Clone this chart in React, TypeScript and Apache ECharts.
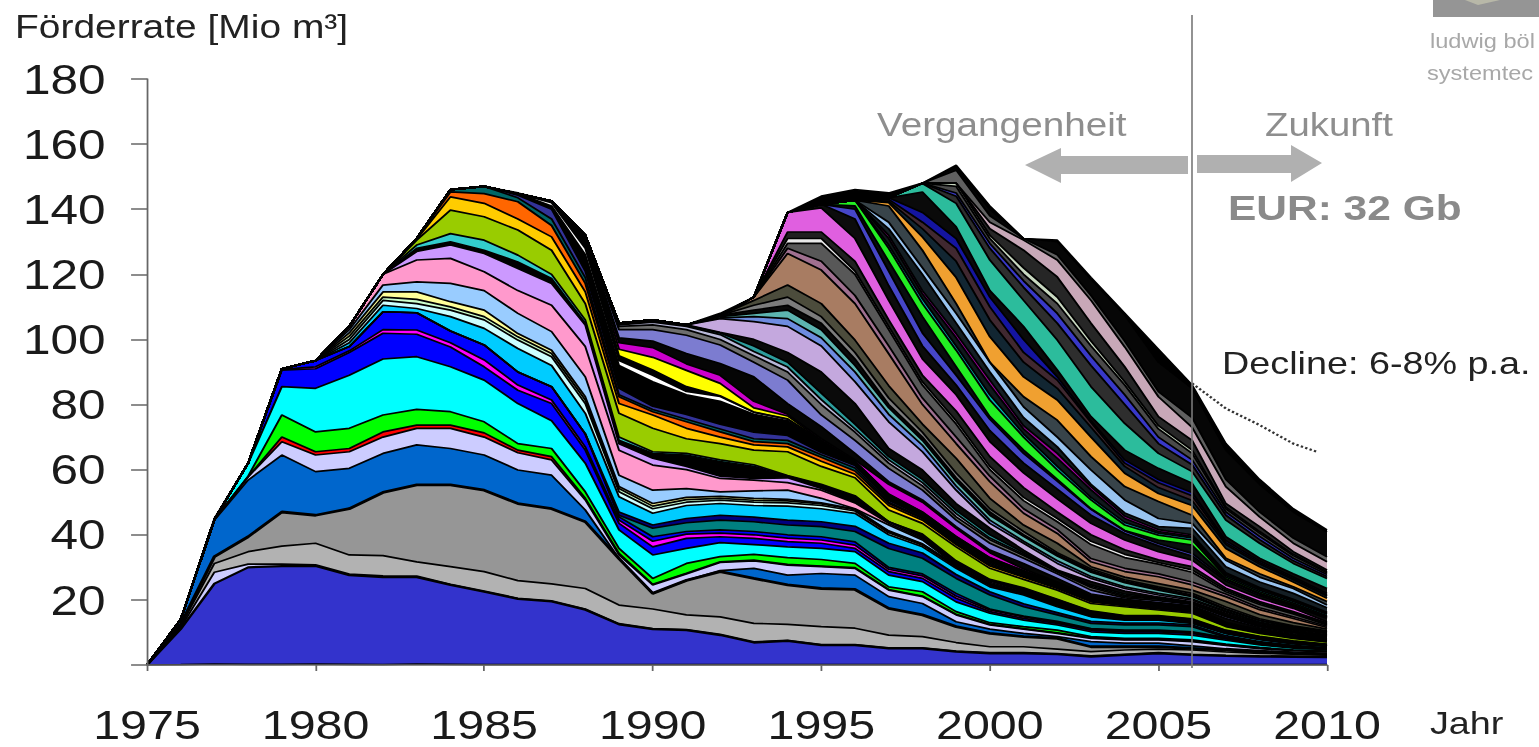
import React, { useEffect, useRef } from "react";
import * as echarts from "echarts";

const years = Array.from({ length: 36 }, (_, i) => 1975 + i);
const yTicks = [0, 20, 40, 60, 80, 100, 120, 140, 160, 180];

// Upper edge of each band (Mio m3). `totalTop` is the outline.
const totalTop = [0,14,45,62,91,93.5,104,120,131,146,147,145,142.5,132,105,106,104.5,108,113,139,144,146,145,148,153.5,141,131,130.5,119,108,97,86,68,57,48,41.5];
const baseTop = [0,0.1,0.3,0.2,0.2,0.3,0.2,0.1,0.3,0.2,0.1,0.1,0.1,0.1,0.1,0.1,0.1,0.1,0.1,0.1,0.1,0.1,0.1,0.1,0.1,0.1,0.1,0.1,0.1,0.1,0.1,0.1,0.1,0.1,0.1,0.1];
const blueTop = [0,11,25,30,30.4,30.4,27.6,27,27,24.6,22.5,20.3,19.5,17,12.5,11,10.7,9.2,6.9,7.4,6.1,6.1,5.1,5.1,4.1,3.6,3.6,3.3,2.6,3.1,3.6,3.1,2.8,2.6,2.5,2.4];
const lavThinTop = [0,11.5,28.5,31,31,30.8,27.9,27.4,27.3,24.8,22.7,20.5,19.7,17.2,12.7,11.2,10.9,9.4,7.1,7.6,6.3,6.3,5.3,5.3,4.3,3.8,3.8,3.5,2.8,3.3,3.8,3.3,3,2.8,2.7,2.6];
const lightGreyTop = [0,12,31.2,34.8,36.5,37.4,33.8,33.6,31.7,30.2,28.7,25.9,24.9,23.5,18.4,17.2,15.4,14.8,12.8,12.5,11.8,11.3,9.2,8.7,6.9,5.6,5.6,4.9,4.1,4.6,4.9,4.6,4,3.6,3.3,3];
const midGreyTop = [0,12.5,33.3,39.4,47,46,48,53,55.3,55.3,53.7,49.6,48,44,32.7,22,26,28.7,26.6,24.6,23.5,23.2,17.4,15.4,11.8,9.7,8.7,8.2,5.6,5.6,5.6,5.1,4.6,4,3.6,3.3];
const steelTop = [0,14,44.5,56.8,64.5,59.4,60.4,65,67.6,66.5,64.5,59.9,58.3,47.6,32.7,22,26,29,29.7,27.6,28.1,27.6,21,18.9,13.3,11,9.7,8.7,7.2,6.7,6.7,5.9,5,4.4,4,3.6];
const lavenderTop = [0,14,44.7,57.8,68.6,64.5,65.5,70,72.7,72.7,70,65.2,63,50.7,33.8,24.6,28,31.5,32,30.7,30.2,29.7,23,21,15.4,12.3,11,9.7,8.2,7.7,7.7,7.2,6,5,4.4,4];
const redTop = [0,14,44.7,57.8,70,65.5,66.5,71.6,73.7,73.7,71.3,66,64,51.2,34.3,24.8,28.2,31.7,32.2,30.9,30.4,29.9,23.2,21.2,15.6,12.5,11.2,9.9,8.4,7.9,7.9,7.4,6.2,5.2,4.6,4.2];
const greenTop = [0,14,44.7,58,76.8,71.6,72.7,76.8,78.5,77.8,74.7,68,66.5,53.2,35.8,26.6,31.2,33.3,34,33,32.4,31.2,24,22.5,16.4,13,11.8,10.7,8.7,8.2,8.2,7.7,6.4,5.4,4.6,4.3];
const cyanTop = [0,14,44.7,61.9,85.5,85,89,94,94.7,91.6,87.5,80.3,75,62,41.5,33.8,35.8,37.6,37,36.3,35.8,34.8,27.6,25.6,19.4,15.9,13.8,12.3,10.2,9.7,9.7,9.2,7.6,6.2,5.2,4.7];
const deepBlueTop = [0,14,44.7,62,90.6,91,96,101.9,101.6,97.7,91.6,84.4,80.3,66,43.5,36.3,38.9,39.4,38.9,37.9,37.4,35.8,28.7,26.6,20.5,16.4,14.3,12.8,10.7,10.2,10.2,9.7,8,6.4,5.4,4.8];
const magentaTop = [0,14,44.7,62,90.8,91.6,96.5,103,102.9,99,93.7,86,81.4,67,44.5,38,40.2,40.5,40,39,38.4,36.8,29.4,27.4,21.2,16.9,14.8,13.1,11,10.5,10.5,10,8.2,6.6,5.6,5];
const upperBlueTop = [0,14,44.7,62,91,93.5,97.8,108.5,108.2,102.6,98.3,90,85.5,71,45.5,39.4,41,41.5,41,40,39.4,37.8,30,28,22,17.2,15,13.4,11.2,10.7,10.7,10.2,8.4,6.8,5.7,5.1];
const tealTop = [46,42,43.7,44.5,44,43,42.5,41,35.8,32.8,26.6,21.5,17.9,15.4,12.8,12.3,12.3,11.8,8.5,6.9,5.8,5.2];
const navyTop = [47,43,45,46,45.4,44.5,44,42.6,37.4,34.4,27.8,22.5,18.8,16.1,13.4,12.9,12.9,12.3,9,7.2,6,5.3];
const skyTop = [99,110.5,109.5,107,103.4,97.2,92,77.3,51.7,46.6,49,49.6,49,48.8,48,46.6,40,36.3,29.7,24,21.5,17.9,14.8,13.8,13.8,12.8,9.6,7.8,6.5,5.7];
const lightCyanTop = [100,112,111,109,106,99.8,94.7,80.3,53.2,48,50,50.6,50,49.8,49,47.3,40.6,36.8,30.1,24.4,21.8,18.2,15,14,14,13,9.8,7.9,6.6,5.8];
const paleGreenTop = [101,113,112.3,110,107,100.8,95.7,81.4,54.2,48.8,50.8,51.2,50.6,50.4,49.5,47.7,41,37.1,30.4,24.7,22,18.4,15.2,14.1,14.1,13.1,9.9,8,6.7,5.85];
const paleYellowTop = [102,114.6,114.6,111.6,109,101.8,96.7,82.4,54.8,49.6,51.5,51.8,51.2,50.9,49.8,47.9,41.2,37.2,30.6,24.9,22.1,18.5,15.3,14.2,14.2,13.2,10,8.1,6.75,5.9];
const lightBlueTop = [103,116.7,117.7,117.2,115,108,102.4,88.5,58.3,53.7,54.2,53.2,53.5,53.7,51.2,48,43,38.4,30.5,25,22,18.6,15.4,14.3,14.3,13.3,10.3,8.3,6.9,6.1];
const pinkTop = [104,120.3,124.4,124.9,120.8,115,110.5,97.8,66,61.4,60,57.3,56.8,56,53.7,49.8,43.5,38.8,31,25.4,22.3,18.8,15.6,14.5,14.5,13.5,10.4,8.4,7,6.15];
const violetTop = [104,120.3,127,129,126.4,121.8,117.2,104.4,68,63.5,61,58,57.3,57.5,54.2,50,44,39.2,31.4,25.8,22.6,19,15.8,14.6,14.6,13.6,10.45,8.45,7.05,6.2];
const darkATop = [104,120.3,128,130,127.4,123.8,118.7,105,69,65,64.5,62.5,61,58,55.3,51.7,43.5,40,31.7,26.1,23.5,20,16.4,15,15,14,10.6,8.7,7.3,6.3];
const turquoiseTop = [104,120.3,129,132.5,130.5,125.9,120,106,70,65.5,65,63,61.5,58.2,55.5,52,43.8,40.2,32,26.3,23.7,20.2,16.6,15.2,15.2,14.2,10.7,8.8,7.4,6.4];
const limeTop = [104,120.3,130.5,139.7,137.7,133.6,127.4,111,77.3,72.7,69.5,68,66,65.5,61,57.5,47.6,43.5,36.3,29.7,26.3,23,18.9,17.9,16.9,15.9,11.8,9.7,8.2,7.1];
const goldTop = [130.8,143.8,141.8,137,131.5,114.6,80.3,76.8,72.7,70,67.6,67,62.6,58.6,49,44.5,37,30.4,27,23.5,19.4,18.2,17.2,16.2,12,9.9,8.3,7.2];
const orangeTop = [131,145.3,144.8,142.3,135,117.2,82.4,77.8,74.7,71.6,68.6,68,63.8,59.6,49.6,45,37.4,30.8,27.3,23.8,19.6,18.4,17.4,16.4,12.1,10,8.4,7.3];
const darkTealTop = [146,147,143.5,137,119,83,78.5,75.5,72.5,69.5,69,64.6,60.5,50,45.3,37.8,31.2,27.6,24,19.8,18.6,17.6,16.6,12.3,10.2,8.5,7.4];
const indigoTop = [144.3,140,121,85,79.5,77,74,71.5,70.5,65.3,61.3,50.6,45.7,38.2,31.6,28,24.3,20,18.8,17.8,16.8,12.4,10.3,8.6,7.5];
const darkBTop = [144.8,141,126,92,87,83,81,77,75,68.5,62.2,52,46.5,39,32.5,28.5,24.8,20.4,19.2,18.2,17.2,12.6,10.4,8.7,7.6];
const whiteATop = [142,128,93.5,89,84,82.5,77.6,75.5,68.8,62.4,52.2,46.7,39.2,32.7,28.7,25,20.6,19.4,18.4,17.4,12.7,10.5,8.8,7.7];
const darkCTop = [142.8,132.6,95,90.6,85.5,82.7,77.7,75.6,68.9,62.5,52.4,46.9,39.4,32.9,28.9,25.2,20.8,19.6,18.6,17.6,12.8,10.6,8.9,7.8];
const yellowTop = [97,94.5,90.5,86.5,79,76.5,69,62.6,52.5,47,39.5,33,29,25.3,20.9,19.7,18.7,17.7,12.9,10.7,9,7.9];
const purpleATop = [99,97.5,92.5,89,81,77,69.5,63,55.5,50,42,34.5,29.5,25.5,21.2,20,19,18,13.1,10.8,9.1,8];
const darkDTop = [100.5,99.5,95.7,92.6,88.5,80.3,73.2,65,56.3,50.7,42.5,35.3,31.2,26.6,21.8,20.2,19.2,18.2,14.3,11.4,9.6,8.5];
const periwinkleTop = [103,103,101.3,98.3,93,87.5,76.8,69,60.4,53.7,44.5,37.4,32.8,28,23,20.6,19.8,18.6,14.8,11.8,9.9,8.8];
const greyATop = [104,104.5,103,100,95,90,80,71.5,62,55,45.5,38.5,33.6,28.6,23.8,21,20.2,18.8,15,12,10,8.9];
const paleVioletTop = [104.5,105.3,104,101.5,96.3,91.5,81.5,72.5,63,56,46.5,39,34,28.8,24.2,21.4,20.4,18.9,15.2,12.1,10.1,9];
const tealATop = [104.7,105.6,104.3,102,98,93,83.5,74,64,57,47.5,40,34.5,29,24.6,21.8,20.6,19,15.4,12.3,10.3,9.1];
const darkETop = [105,106,104.5,102.2,100,96,90,80.3,66.5,59.9,49.6,42,35.3,29.2,25.6,22.7,20.9,19.4,15.9,12.7,10.7,9.3];
const lilacTop = [104.5,106.4,105.5,104,98,87,74.7,65.5,53.7,43.5,37.4,31.2,26.6,23.5,21.5,19.9,16.3,13,11,9.6];
const cornTop = [104.5,106.6,107,106.4,100.5,90,77,67.5,55,44.5,38,32,27.2,24,22,20.3,16.6,13.2,11.2,9.8];
const tealBTop = [107,108,109,103,92,79,69,56.5,46,39.5,33.5,28.5,25.3,23,21,17,13.6,11.5,10];
const darkFTop = [107.4,109,110.5,105,94,80,70,57.5,47,40,34,29,25.8,23.6,21.5,17.3,13.8,11.7,10.2];
const greyBTop = [110.5,113,107,96,82,71.5,59,48,41,34.5,29.5,26.2,24,22,17.8,14.2,12,10.5];
const oliveGreyTop = [112,116.7,111,99.8,85.8,74,63.5,51.2,43,37.4,30.2,27,25,23,19.5,15.5,13,11];
const brownTop = [113,126.4,121.3,111,95.6,80,68,56.3,46.6,40.4,31.7,28.7,27.1,24.6,21,17,14.3,11.5];
const plumTop = [128,124,113.5,98,82,70,58,48,41.6,32.7,29.7,28,25.5,21.8,17.6,14.8,11.9];
const greyCTop = [129.5,129.5,120,103,86,74,60,50.5,44,37,33,31,28.5,22.5,18.6,15.7,12.3];
const whiteBTop = [131,131,121,104,87,75,61,51.5,45,38,34,31.5,29.2,23,19,16,12.6];
const darkGTop = [133,133,124,106,89,78,64,54.5,47,40,35.4,32.3,30.2,23.6,19.5,16.4,13];
const orchidTop = [139,140.4,131,112,94,83,68.6,59,51,43.5,38.4,34.8,32.2,24.6,20.5,17.4,13.3];
const darkHTop = [141.5,137,116.5,98,86,72,62,54,46,40.4,36.6,33.5,25.8,21.3,18,14.3];
const royalTop = [140,121,102,89,75.5,65,56.5,47.8,41.2,37.3,34.3,26.3,21.7,18.3,14.6];
const darkITop = [141,124,107,91.6,76.3,66,57,48,41.3,38.4,36.8,26.5,22,18.6,14.8];
const neonTop = [142.8,128,111,96.7,81.4,70,59.9,50.7,43,39.9,38.4,27,22.5,19,15.1];
const tealCTop = [129,112.5,98,83,71,61,51.5,43.8,40.5,39,27.5,23,19.5,15.6];
const darkJTop = [131,114,100.5,86,72.5,63.5,53.8,45,41,39.5,28,23.5,20,16];
const purpleBTop = [132,115,101.8,87.5,73.5,65,54.8,45.8,41.6,40,28.3,23.8,20.2,16.2];
const darkKTop = [134,120,105,90,76,67,55.5,46.7,42.5,42,30.2,25.5,22,17.6];
const babyBlueTop = [136,122,108,93,79.3,70,59.9,50.7,45,43.5,32.2,27,23.5,18.4];
const slateTop = [141,127.4,111,92.6,82.4,75.2,64,54.8,50.2,46,32.8,28,24,19.5];
const amberTop = [142,131.5,119,100.8,88.5,81.4,70,58.9,52.7,49,35.8,30.2,25.5,20.5];
const darkLTop = [142.5,134,124,106,93,85,73,61,54.5,50.5,37,31,26.2,21.2];
const maroonTop = [143,136,128,110,96,87.5,74.5,62,56,52,37.6,31.5,26.6,21.6];
const ultraTop = [143.5,139,131,113,100,88.5,75,63,57,53,38.2,32,27,22];
const darkMTop = [145.3,134.6,115,104,90.6,76.3,66,60.4,55.8,39.4,32.8,28,23.5];
const jadeTop = [147.9,141.8,124.4,112,99.8,85.5,74.2,65,59.4,44.5,37.4,31.2,26.6];
const greyDTop = [148,144,128,116,105,92,80,68,61.5,46,38.5,32,27.2];
const royalBTop = [145,129.5,118,108,95,83,70,63,47,39.5,32.8,27.8];
const greyETop = [147,131,120,111,98,86,72.5,65,48,40.5,33.6,28.3];
const sageTop = [148,132,122,113,99.5,87,73.5,66,48.5,41,34,28.6];
const darkNTop = [134,127.4,119.2,105,91.6,76.3,69,49.6,42.5,34.8,29.2];
const mauveTop = [136,130.5,124.4,112,97.7,82.4,73,54.8,45.5,37.4,31.7];
const greyFTop = [152,138,131,126,113.5,99.5,84,76,57,47,39,33.2];
const darkOTop = [153,140,131,130,118.5,107.5,93,85,66,55.5,47,40.8];

const declineYears = [2006, 2007, 2008, 2009, 2009.7];
const declineValues = [86.5, 78.8, 73.7, 68, 65.5];

const pad = (start: number, values: number[]) => {
  const lead = start - 1975;
  return years.map((_, i) => (i < lead ? null : values[i - lead]));
};

const bands: [string, (number | null)[], number?][] = [
  ["#008878", baseTop], ["#3333CC", blueTop, 2.2], ["#CCCCFF", lavThinTop], ["#B2B2B2", lightGreyTop],
  ["#969696", midGreyTop, 2.8], ["#0066CC", steelTop], ["#CCCCFF", lavenderTop], ["#FF0000", redTop],
  ["#00FF00", greenTop], ["#00FFFF", cyanTop], ["#0000FF", deepBlueTop], ["#FF00FF", magentaTop],
  ["#0000FF", upperBlueTop], ["#008080", pad(1989, tealTop)], ["#000080", pad(1989, navyTop)],
  ["#00CCFF", pad(1981, skyTop)], ["#CCFFFF", pad(1981, lightCyanTop)], ["#CCFFCC", pad(1981, paleGreenTop)],
  ["#FFFF99", pad(1981, paleYellowTop)], ["#99CCFF", pad(1981, lightBlueTop)], ["#FF99CC", pad(1981, pinkTop)],
  ["#CC99FF", pad(1981, violetTop)], ["#000000", pad(1981, darkATop)], ["#33CCCC", pad(1981, turquoiseTop)],
  ["#99CC00", pad(1981, limeTop)], ["#FFCC00", pad(1983, goldTop)], ["#FF6600", pad(1983, orangeTop)],
  ["#006666", pad(1984, darkTealTop)], ["#333399", pad(1986, indigoTop)], ["#000000", pad(1986, darkBTop)],
  ["#FFFFFF", pad(1987, whiteATop)], ["#000000", pad(1987, darkCTop)], ["#FFFF00", pad(1989, yellowTop)],
  ["#CC00CC", pad(1989, purpleATop)], ["#050505", pad(1989, darkDTop)], ["#7C7CD0", pad(1989, periwinkleTop)],
  ["#6E6E6E", pad(1989, greyATop)], ["#B8B8D8", pad(1989, paleVioletTop)], ["#2C9C9C", pad(1989, tealATop)],
  ["#0A0A0A", pad(1989, darkETop)], ["#C4A8DE", pad(1991, lilacTop)], ["#6E8CE0", pad(1991, cornTop)],
  ["#5CB4B0", pad(1992, tealBTop)], ["#0A0A0A", pad(1992, darkFTop)], ["#7C7C7C", pad(1993, greyBTop)],
  ["#4C4C3C", pad(1993, oliveGreyTop)], ["#A87C62", pad(1993, brownTop)], ["#A07090", pad(1994, plumTop)],
  ["#585858", pad(1994, greyCTop)], ["#E8E8E8", pad(1994, whiteBTop)], ["#202020", pad(1994, darkGTop)],
  ["#E05FE0", pad(1994, orchidTop)], ["#0C0C0C", pad(1995, darkHTop)], ["#4646C8", pad(1996, royalTop)],
  ["#080E0E", pad(1996, darkITop)], ["#22EE22", pad(1996, neonTop)], ["#00B8B8", pad(1997, tealCTop)],
  ["#10181C", pad(1997, darkJTop)], ["#A000A0", pad(1997, purpleBTop)], ["#141E24", pad(1997, darkKTop)],
  ["#99C4F0", pad(1997, babyBlueTop)], ["#38444A", pad(1997, slateTop)], ["#F0A030", pad(1997, amberTop)],
  ["#122632", pad(1997, darkLTop)], ["#402830", pad(1997, maroonTop)], ["#1414A0", pad(1997, ultraTop)],
  ["#0A0A0A", pad(1998, darkMTop)], ["#2CBC9C", pad(1998, jadeTop)], ["#2E2E2E", pad(1998, greyDTop)],
  ["#3838C8", pad(1999, royalBTop)], ["#4A4A4A", pad(1999, greyETop)], ["#C8D8C0", pad(1999, sageTop)],
  ["#262626", pad(2000, darkNTop)], ["#C8A8B8", pad(2000, mauveTop)], ["#606060", pad(1999, greyFTop)],
  ["#060606", pad(1999, darkOTop)], ["#000000", totalTop],
];

const S = 1539 / 1304;
const AXIS = "#666666";
const FONT = '"Liberation Sans", Arial, sans-serif';

function thicknesses() {
  const running = years.map(() => 0);
  return bands.map(([color, tops, width]) => {
    const data = years.map((y, i) => {
      const raw = tops[i];
      const next = raw == null ? running[i] : Math.min(totalTop[i], Math.max(running[i], raw));
      const d = next - running[i];
      running[i] = next;
      return Math.round(d * 100) / 100;
    });
    return { color, data, width: width ?? 1.7 };
  });
}

const label = (text: string, x: number, y: number, size: number, fill: string, bold = false, align = "left") => ({
  type: "text",
  z: 20,
  style: {
    text,
    x: x / S,
    y,
    fill,
    textAlign: align,
    textVerticalAlign: "middle",
    font: `${bold ? "bold " : ""}${size}px ${FONT}`,
  },
});
const pts = (list: number[][]) => list.map(([x, y]) => [x / S, y]);
const GREY_ARROW = "#B0B0B0";

export default function App() {
  const ref = useRef<HTMLDivElement>(null);
  useEffect(() => {
    const chart = echarts.init(ref.current!, undefined, { renderer: "svg" });
    const stacked = thicknesses().map((b, i) => ({
      type: "line",
      name: `band${i}`,
      stack: "fields",
      data: b.data,
      showSymbol: false,
      symbol: "none",
      silent: true,
      lineStyle: { color: "#000000", width: b.width },
      areaStyle: { color: b.color, opacity: 1 },
      z: 2,
    }));
    chart.setOption({
      animation: false,
      backgroundColor: "#FFFFFF",
      grid: { left: 147 / S, width: (1327 - 147) / S, top: 79, height: 586, outerBoundsMode: "none" },
      xAxis: [
        {
          type: "category",
          data: years.map(String),
          boundaryGap: false,
          splitLine: { show: false },
          axisLine: { lineStyle: { color: AXIS, width: 1.5 } },
          axisTick: { length: 6, interval: 4, lineStyle: { color: AXIS, width: 1.5 } },
          axisLabel: { interval: 4, margin: 39, fontSize: 41, fontFamily: FONT, color: "#1A1A1A" },
          z: 5,
        },
        { type: "value", min: 1975, max: 2010, show: false },
      ],
      yAxis: {
        type: "value",
        min: 0,
        max: 180,
        interval: 20,
        splitLine: { show: false },
        axisLine: { show: true, lineStyle: { color: AXIS, width: 1.5 } },
        axisTick: { show: true, length: 13.5, lineStyle: { color: AXIS, width: 1.5 } },
        axisLabel: {
          margin: 35,
          fontSize: 42,
          fontFamily: FONT,
          color: "#1A1A1A",
          formatter: (v: number) => (yTicks.includes(v) && v > 0 ? String(v) : ""),
        },
        z: 5,
      },
      series: [
        ...stacked,
        {
          type: "line",
          name: "Decline",
          xAxisIndex: 1,
          data: declineYears.map((y, i) => [y, declineValues[i]]),
          showSymbol: false,
          symbol: "none",
          silent: true,
          lineStyle: { color: "#333333", width: 2.2, type: [2, 2] },
          z: 3,
        },
      ],
      graphic: [
        label("Förderrate [Mio m³]", 15, 27, 33, "#222222"),
        label("Vergangenheit", 877, 125, 32.8, "#8E8E8E"),
        label("Zukunft", 1265, 125, 32.5, "#8E8E8E"),
        label("EUR: 32 Gb", 1228, 207, 36, "#8A8A8A", true),
        label("Decline: 6-8% p.a.", 1222, 363, 32, "#222222"),
        label("Jahr", 1430, 723, 32, "#222222"),
        label("ludwig böl", 1430, 41, 20, "#A8A8A8"),
        label("systemtec", 1427, 73, 20, "#A8A8A8"),
        { type: "rect", z: 19, shape: { x: 1433 / S, y: 0, width: 106 / S, height: 17 }, style: { fill: "#959595" } },
        {
          type: "polygon",
          z: 20,
          shape: { points: pts([[1465, 0], [1500, 0], [1478, 5]]) },
          style: { fill: "#B8B8A8" },
        },
        {
          type: "polygon",
          z: 20,
          shape: {
            points: pts([[1025, 165], [1061, 148], [1061, 156], [1188, 156], [1188, 174], [1061, 174], [1061, 183]]),
          },
          style: { fill: GREY_ARROW },
        },
        {
          type: "polygon",
          z: 20,
          shape: {
            points: pts([[1322, 163], [1291, 145], [1291, 155], [1197, 155], [1197, 173], [1291, 173], [1291, 182]]),
          },
          style: { fill: GREY_ARROW },
        },
        {
          type: "line",
          z: 21,
          shape: { x1: 1192 / S, y1: 15, x2: 1192 / S, y2: 668 },
          style: { stroke: "rgba(120,120,120,0.85)", lineWidth: 1.6 },
        },
      ],
    });
    return () => chart.dispose();
  }, []);
  return (
    <div style={{ position: "absolute", left: 0, top: 0, width: 1539, height: 747, overflow: "hidden", background: "#fff" }}>
      <div
        ref={ref}
        style={{
          width: 1304,
          height: 747,
          transform: `scaleX(${S})`,
          transformOrigin: "0 0",
          filter: "blur(0.6px)",
        }}
      />
    </div>
  );
}
